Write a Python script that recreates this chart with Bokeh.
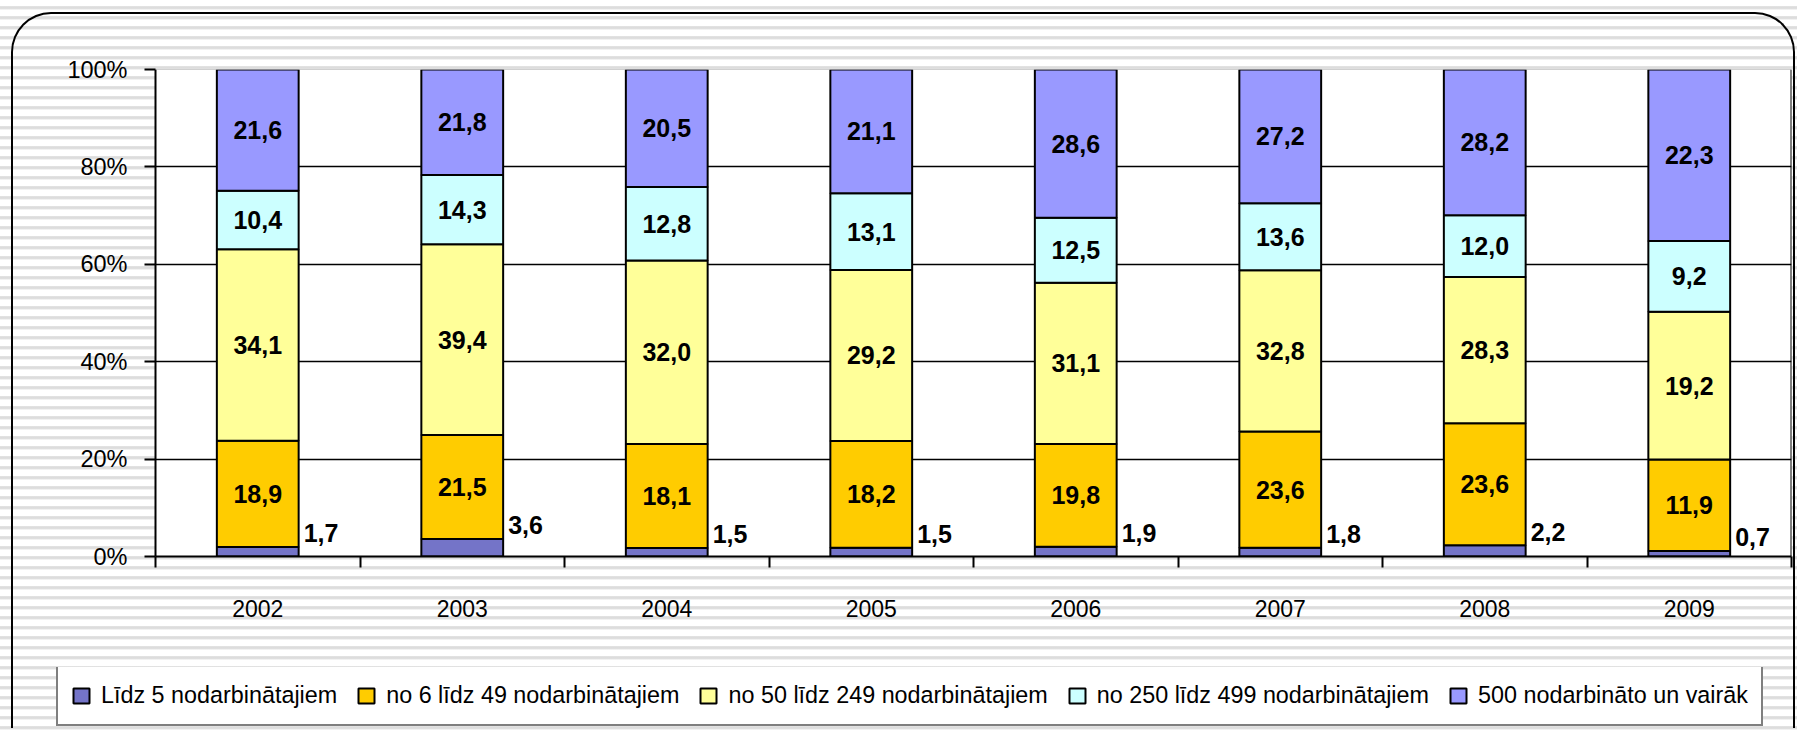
from bokeh.plotting import figure
from bokeh.layouts import column
from bokeh.models import (ColumnDataSource, FixedTicker, Span, Legend, LegendItem,
                          Range1d, GlobalInlineStyleSheet)
from bokeh.core.properties import value
from bokeh.embed import file_html
from bokeh.resources import INLINE

years = ["2002", "2003", "2004", "2005", "2006", "2007", "2008", "2009"]
series_names = ["Līdz 5 nodarbinātajiem", "no 6 līdz 49 nodarbinātajiem",
                "no 50 līdz 249 nodarbinātajiem", "no 250 līdz 499 nodarbinātajiem",
                "500 nodarbināto un vairāk"]
lidz_5 = [1.7, 3.6, 1.5, 1.5, 1.9, 1.8, 2.2, 0.7]
no_6_49 = [18.9, 21.5, 18.1, 18.2, 19.8, 23.6, 23.6, 11.9]
no_50_249 = [34.1, 39.4, 32.0, 29.2, 31.1, 32.8, 28.3, 19.2]
no_250_499 = [10.4, 14.3, 12.8, 13.1, 12.5, 13.6, 12.0, 9.2]
virs_500 = [21.6, 21.8, 20.5, 21.1, 28.6, 27.2, 28.2, 22.3]
y_ticks = [0, 20, 40, 60, 80, 100]
y_tick_labels = ["0%", "20%", "40%", "60%", "80%", "100%"]

colors = ["#7474c8", "#FFCC00", "#FFFF99", "#CCFFFF", "#9999FF"]
series = [lidz_5, no_6_49, no_50_249, no_250_499, virs_500]

n = len(years)
xs = [i + 0.5 for i in range(n)]
totals = [sum(s[i] for s in series) for i in range(n)]

FONT = "Liberation Sans"
stripes = ("repeating-linear-gradient(to bottom, #ffffff 0px, #ffffff 6px, "
           "#e4e4e4 6px, #dadada 8px, #e4e4e4 9px, #ffffff 10px)")
css = GlobalInlineStyleSheet(css="body { background: " + stripes + "; }")

p = figure(width=1780, height=653, output_backend="svg", toolbar_location=None,
           x_range=Range1d(0, n), y_range=Range1d(0, 100),
           min_border_left=142, min_border_right=2, min_border_top=55, min_border_bottom=111,
           border_fill_color=None, background_fill_color="white",
           outline_line_color=None, margin=0, frame_align=False)

# grid
p.xgrid.visible = False
p.ygrid.ticker = FixedTicker(ticks=[20, 40, 60, 80])
p.ygrid.grid_line_color = "black"
p.ygrid.grid_line_width = 1.6
p.add_layout(Span(location=100, dimension="width", line_color="#a8a8a8", line_width=1))
p.add_layout(Span(location=n, dimension="height", line_color="black", line_width=2))

# bars
bottoms = [0.0] * n
sources = []
label_rows = {"x": [], "y": [], "t": []}
small_rows = {"x": [], "y": [], "t": []}
for k, (vals, col) in enumerate(zip(series, colors)):
    tops = [bottoms[i] + vals[i] / totals[i] * 100 for i in range(n)]
    src = ColumnDataSource(dict(x=xs, bottom=list(bottoms), top=tops))
    sources.append(src)
    p.vbar(x="x", width=0.4, bottom="bottom", top="top", source=src,
           fill_color=col, line_color="black", line_width=2)
    for i in range(n):
        txt = ("%.1f" % vals[i]).replace(".", ",")
        if k == 0:
            small_rows["x"].append(xs[i] + 0.2)
            small_rows["y"].append(tops[i] + 2.8)
            small_rows["t"].append(txt)
        else:
            label_rows["x"].append(xs[i])
            label_rows["y"].append((bottoms[i] + tops[i]) / 2)
            label_rows["t"].append(txt)
    bottoms = tops

p.text(x="x", y="y", text="t", source=ColumnDataSource(label_rows),
       text_font=value(FONT), text_font_style="bold", text_font_size="25px",
       text_align="center", text_baseline="middle", text_color="black")
p.text(x="x", y="y", text="t", source=ColumnDataSource(small_rows),
       text_font=value(FONT), text_font_style="bold", text_font_size="25px",
       text_align="left", text_baseline="middle", text_color="black", x_offset=5)

# axes
xa = p.xaxis[0]
xa.ticker = FixedTicker(ticks=xs, minor_ticks=list(range(n + 1)))
xa.major_label_overrides = {x: y for x, y in zip(xs, years)}
xa.major_tick_out = 0
xa.major_tick_in = 0
xa.minor_tick_out = 11
xa.minor_tick_in = 0
xa.minor_tick_line_color = "black"
xa.minor_tick_line_width = 2
xa.axis_line_color = "black"
xa.axis_line_width = 2
xa.major_label_text_font = FONT
xa.major_label_text_font_size = "23px"
xa.major_label_text_color = "black"
xa.major_label_standoff = 32

ya = p.yaxis[0]
ya.ticker = FixedTicker(ticks=y_ticks, minor_ticks=[])
ya.major_label_overrides = {t: l for t, l in zip(y_ticks, y_tick_labels)}
ya.major_tick_out = 11
ya.major_tick_in = 0
ya.major_tick_line_color = "black"
ya.major_tick_line_width = 2
ya.axis_line_color = "black"
ya.axis_line_width = 2
ya.major_label_text_font = FONT
ya.major_label_text_font_size = "23.5px"
ya.major_label_text_color = "black"
ya.major_label_standoff = 17

# legend strip below the plot; swatch renderers share the bar sources but are hidden
lg = figure(width=1780, height=61, output_backend="svg", toolbar_location=None,
            x_range=Range1d(0, n), y_range=Range1d(200, 300),
            x_axis_type=None, y_axis_type=None, min_border=0,
            border_fill_color=None, background_fill_color=None,
            outline_line_color=None, margin=0, frame_align=False)
lg.grid.visible = False
swatches = []
for src, col in zip(sources, colors):
    r = lg.vbar(x="x", width=0.4, bottom="bottom", top="top", source=src,
                fill_color=col, line_color="black", line_width=2)
    r.visible = False
    swatches.append(r)
legend = Legend(items=[LegendItem(label=nm, renderers=[r]) for nm, r in zip(series_names, swatches)],
                orientation="horizontal", location=(43, 2), click_policy="none",
                border_line_color="black", border_line_width=2,
                background_fill_color="white", background_fill_alpha=1,
                label_text_font=FONT, label_text_font_size="23.35px", label_text_color="black",
                label_standoff=10, spacing=19, glyph_width=20, glyph_height=19,
                label_height=31, padding=13, margin=0)
lg.add_layout(legend)

layout = column(p, lg, spacing=0, margin=(12, 0, 0, 11),
                styles={"border": "2.5px solid #000", "border-bottom": "none",
                        "border-radius": "40px 40px 0 0"},
                stylesheets=[css])

open("out.html", "w").write(file_html(layout, INLINE))
